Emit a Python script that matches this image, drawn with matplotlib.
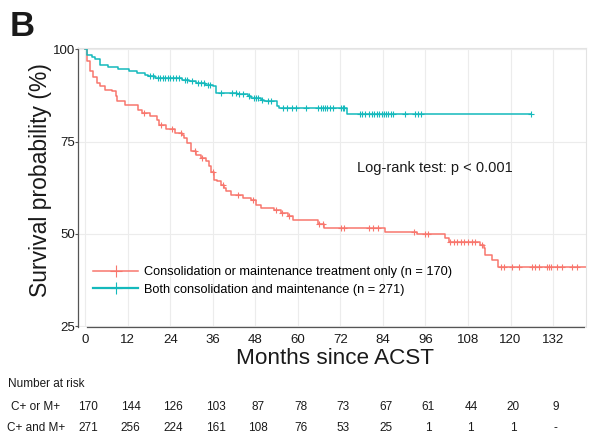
import numpy as np
import matplotlib.pyplot as plt
from matplotlib.lines import Line2D
import matplotlib.transforms as mtransforms

plt.rcParams['font.family'] = ['Liberation Sans', 'DejaVu Sans']

# Kaplan-Meier steps: month of each drop and survival (%) after it
cm_t = [0, 0.4, 1.3, 2.3, 3.2, 4.2, 5.6, 7.4, 8.8, 9.0,
        11.2, 15.0, 15.9, 18.3, 20.1, 20.7, 22.9, 25.4, 27.4, 27.9,
        28.8, 29.7, 31.2, 32.6, 34.0, 34.9, 35.6, 36.2, 37.3, 38.2,
        39.2, 39.7, 41.1, 44.4, 46.7, 48.2, 49.6, 53.3, 55.2, 57.1,
        58.6, 65.7, 67.5, 84.5, 93.5, 101.4, 102.5, 111.3, 112.4, 112.8,
        114.7, 116.6]
cm_s = [100, 96.8, 94.1, 92.4, 91.0, 90.0, 89.1, 88.7, 87.3, 86.0,
        84.9, 83.7, 82.9, 81.9, 81.0, 79.6, 78.3, 77.4, 76.9, 76.0,
        74.7, 72.4, 71.5, 70.6, 69.7, 68.3, 66.9, 64.7, 64.2, 63.3,
        62.4, 61.5, 60.6, 59.7, 59.2, 57.9, 57.0, 56.5, 55.6, 54.7,
        53.8, 52.7, 51.5, 50.4, 49.9, 48.8, 47.9, 47.0, 46.1, 44.3,
        42.9, 41.1]
cm_cens = [16.5, 21.5, 24.5, 26.9, 31.0, 32.8, 35.9, 39.0, 43.0, 47.2,
           53.8, 55.5, 57.5, 66.0, 67.0, 72.2, 73.1, 80.2, 81.2, 82.6,
           92.9, 95.8, 96.8, 102.8, 104.0, 105.0, 106.0, 107.0, 108.0, 109.0,
           110.0, 112.0, 117.2, 118.2, 120.4, 122.4, 126.0, 127.0, 128.0, 130.3,
           130.9, 131.4, 133.1, 134.6, 137.4, 138.8]
cm_end = 145

both_t = [0, 0.4, 1.8, 2.7, 4.2, 6.5, 9.3, 12.2, 14.5, 16.9,
          17.8, 19.8, 27.3, 29.2, 31.1, 33.9, 35.9, 36.8, 37.0, 42.8,
          45.8, 46.7, 49.6, 50.5, 54.1, 54.7, 73.8]
both_s = [100, 98.6, 97.9, 97.3, 95.9, 95.2, 94.6, 94.1, 93.7, 93.2,
          92.7, 92.3, 91.8, 91.4, 90.9, 90.5, 90.0, 88.7, 88.2, 87.8,
          87.3, 86.9, 86.4, 86.0, 84.6, 84.2, 82.4]
both_cens = [18.2, 19.0, 20.5, 21.2, 21.9, 22.6, 23.3, 24.0, 24.8, 25.6,
             26.4, 28.0, 28.6, 30.0, 31.8, 32.6, 33.4, 34.6, 35.3, 38.2,
             41.5, 42.5, 43.3, 44.4, 46.2, 47.6, 48.2, 48.7, 50.0, 51.5,
             52.4, 55.8, 57.0, 58.3, 59.5, 62.3, 65.7, 66.4, 67.0, 67.7,
             68.3, 69.0, 70.0, 72.2, 72.7, 73.1, 77.5, 78.1, 79.0, 80.0,
             81.0, 81.6, 82.4, 83.0, 83.6, 84.2, 84.8, 85.4, 86.2, 86.8,
             90.1, 93.0, 93.8, 94.6, 125.8]
both_end = 125.8

months = [0, 12, 24, 36, 48, 60, 72, 84, 96, 108, 120, 132]
risk_cm = ['170', '144', '126', '103', '87', '78', '73', '67', '61', '44', '20', '9']
risk_both = ['271', '256', '224', '161', '108', '76', '53', '25', '1', '1', '1', '-']

red = '#F8766D'
teal = '#14B9BC'
txt = '#1a1a1a'

fig = plt.figure(figsize=(5.89, 4.37), dpi=100)
ax = fig.add_axes([78 / 589, 1 - 327 / 437, 508 / 589, 279 / 437])


def km(t, s, cens, end, color):
    t = np.array(t)
    s = np.array(s)
    ax.step(np.append(t, end), np.append(s, s[-1]), where='post',
            color=color, lw=1.1)
    cy = s[np.searchsorted(t, cens, side='right') - 1]
    ax.plot(cens, cy, ls='none', marker='+', ms=5, mew=0.8, color=color)


km(cm_t, cm_s, cm_cens, cm_end, red)
km(both_t, both_s, both_cens, both_end, teal)

ax.set_xlim(-2.06, 141.3)
ax.set_ylim(24.73, 100.4)
ax.set_xticks(months)
ax.set_yticks([25, 50, 75, 100])
ax.grid(True, color='#ececec', lw=0.8)
ax.set_axisbelow(True)
for side in ['top', 'right']:
    ax.spines[side].set_color('#e3e3e3')
    ax.spines[side].set_linewidth(0.8)
ax.spines['left'].set_color('#555555')
ax.spines['left'].set_linewidth(0.9)
ax.spines['bottom'].set_color('#555555')
ax.spines['bottom'].set_linewidth(0.9)
ax.spines['bottom'].set_bounds(0.5, 140.8)
ax.tick_params(axis='x', length=0, pad=5, labelsize=9.5, labelcolor=txt)
ax.tick_params(axis='y', length=2, width=0.8, color='#555555', pad=0,
               labelsize=9.5, labelcolor=txt)

ax.text(76.7, 67.8, 'Log-rank test: p < 0.001', fontsize=10.5, color=txt,
        va='center', ha='left')

handles = [Line2D([], [], color=red, lw=1.1, marker='+', ms=9, mew=0.8),
           Line2D([], [], color=teal, lw=1.6, marker='+', ms=9, mew=0.8)]
labels = ['Consolidation or maintenance treatment only (n = 170)',
          'Both consolidation and maintenance (n = 271)']
ax.legend(handles, labels, loc='center left', bbox_to_anchor=(0.03, 0.165),
          frameon=False, fontsize=9.2, handlelength=3.5, handletextpad=0.45,
          borderpad=0, borderaxespad=0, labelspacing=0.42)

fig.text(22 / 589, 1 - 26 / 437, 'B', fontsize=25, fontweight='bold',
         ha='center', va='center', color=txt)
fig.text(335 / 589, 1 - 358 / 437, 'Months since ACST', fontsize=16.2,
         ha='center', va='center', color=txt)
fig.text(41 / 589, 1 - 180 / 437, 'Survival probability (%)', fontsize=16.5,
         rotation=90, ha='center', va='center', color=txt)

# number at risk table under the x axis
tr = mtransforms.blended_transform_factory(ax.transData, fig.transFigure)
fig.text(8 / 589, 1 - 384 / 437, 'Number at risk', fontsize=8.5,
         ha='left', va='center', color=txt)
fig.text(36 / 589, 1 - 407 / 437, 'C+ or M+', fontsize=8.5,
         ha='center', va='center', color=txt)
fig.text(36 / 589, 1 - 428 / 437, 'C+ and M+', fontsize=8.5,
         ha='center', va='center', color=txt)
for m, a, b in zip(months, risk_cm, risk_both):
    ax.text(m + 0.8, 1 - 407 / 437, a, transform=tr, fontsize=8.5,
            ha='center', va='center', color=txt, clip_on=False)
    ax.text(m + 0.8, 1 - 428 / 437, b, transform=tr, fontsize=8.5,
            ha='center', va='center', color=txt, clip_on=False)

fig.savefig('out.png', dpi=100)
